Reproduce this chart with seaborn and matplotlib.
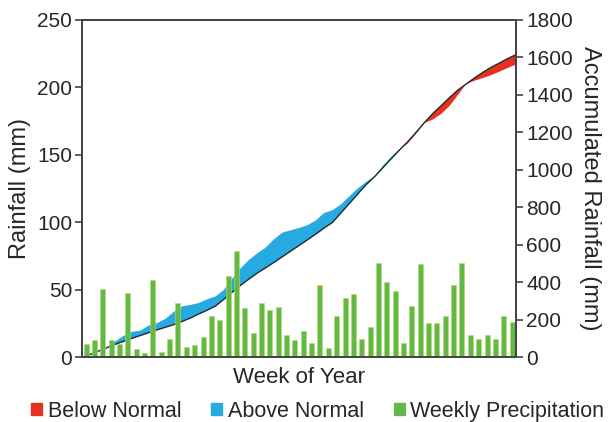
import numpy as np
import pandas as pd
import matplotlib
matplotlib.use("Agg")
import matplotlib.pyplot as plt
import seaborn as sns
from matplotlib.patches import Patch

# weekly precipitation (mm), weeks 1..52
weekly_rain = [10, 13, 51, 13, 10, 48, 6, 3, 57, 4, 14, 40, 7.5, 9, 15.5, 31, 28, 60,
               78.5, 36.5, 18, 40.5, 35, 37.5, 16.5, 13, 19.5, 11, 54, 7, 31, 44, 47, 14, 22.5, 70,
               56, 49, 11, 38, 69.5, 25.5, 25.5, 31, 54, 70, 16.5, 14, 16.5, 14, 31, 26]

# accumulated rainfall (mm) at the end of each week, week 0..52
normal_acc = [0, 16, 34, 52, 70, 86, 102, 117, 132, 147, 161, 175, 192, 210, 232, 252,
              274, 310, 348, 385, 418, 450, 478, 507, 537, 567, 597, 627, 658, 690, 720,
              770, 820, 870, 920, 962, 1010, 1058, 1105, 1150, 1200, 1252, 1300, 1342, 1385,
              1425, 1458, 1490, 1520, 1547, 1570, 1594, 1615]
actual_acc = [0, 13, 32, 55, 85, 115, 137, 142, 170, 183, 205, 243, 272, 280, 290, 310,
              325, 360, 420, 475, 520, 555, 585, 630, 665, 678, 690, 705, 730, 770, 785,
              815, 858, 900, 935, 965, 1020, 1068, 1110, 1140, 1192, 1250, 1268, 1298, 1340,
              1398, 1458, 1475, 1490, 1505, 1524, 1544, 1562]

weeks = np.arange(len(normal_acc))

red = "#e8301f"
blue = "#27a9e1"
green = "#62b946"

sns.set_style("white")
plt.rcParams['font.family'] = ['Liberation Sans', 'DejaVu Sans']

fig = plt.figure(figsize=(6.11, 4.22), dpi=100)
ax = fig.add_axes([0.134, 0.153, 0.711, 0.800])
ax2 = ax.twinx()
ax.set_zorder(ax2.get_zorder() + 1)
ax.patch.set_visible(False)

# accumulated rainfall vs normal
acc = np.array(actual_acc, dtype=float)
norm = np.array(normal_acc, dtype=float)
ax2.fill_between(weeks, norm, acc, where=acc >= norm, interpolate=True,
                 color=blue, linewidth=0)
ax2.fill_between(weeks, norm, acc, where=acc < norm, interpolate=True,
                 color=red, linewidth=0)
sns.lineplot(x=weeks, y=norm, color="#1d2a30", linewidth=1.0, ax=ax2)

# weekly bars
bars = pd.DataFrame({'week': weeks[:-1] + 0.5, 'rain': weekly_rain})
sns.barplot(data=bars, x='week', y='rain', native_scale=True, color=green,
            saturation=1, width=0.6, edgecolor="#b8d86a", linewidth=0.4, ax=ax)

ax.set_xlim(0, 52)
ax.set_ylim(0, 250)
ax2.set_ylim(0, 1800)
ax.set_yticks(range(0, 251, 50))
ax2.set_yticks(range(0, 1801, 200))
ax.set_xticks([])
ax2.set_xticks([])

for a in (ax, ax2):
    for s in a.spines.values():
        s.set_color("#444444")
        s.set_linewidth(1.4)
    a.tick_params(axis='y', length=5, width=1.2, color="#444444",
                  labelsize=15, pad=2, direction='out')
ax.tick_params(axis='y', left=True, right=False)
ax2.tick_params(axis='y', right=True, left=False)

ax.set_ylabel("Rainfall (mm)", fontsize=17, labelpad=4)
ax2.set_ylabel("Accumulated Rainfall (mm)", fontsize=17, rotation=270, labelpad=20)
ax.set_xlabel("Week of Year", fontsize=16, labelpad=7)

handles = [Patch(color=red, label="Below Normal"),
           Patch(color=blue, label="Above Normal"),
           Patch(color=green, label="Weekly Precipitation")]
fig.legend(handles=handles, loc='lower center', bbox_to_anchor=(0.52, -0.045), ncol=3,
           frameon=False, fontsize=15.5, handlelength=0.5, handleheight=0.5,
           handletextpad=0.25, columnspacing=1.4)

fig.savefig("out.png", dpi=100)
